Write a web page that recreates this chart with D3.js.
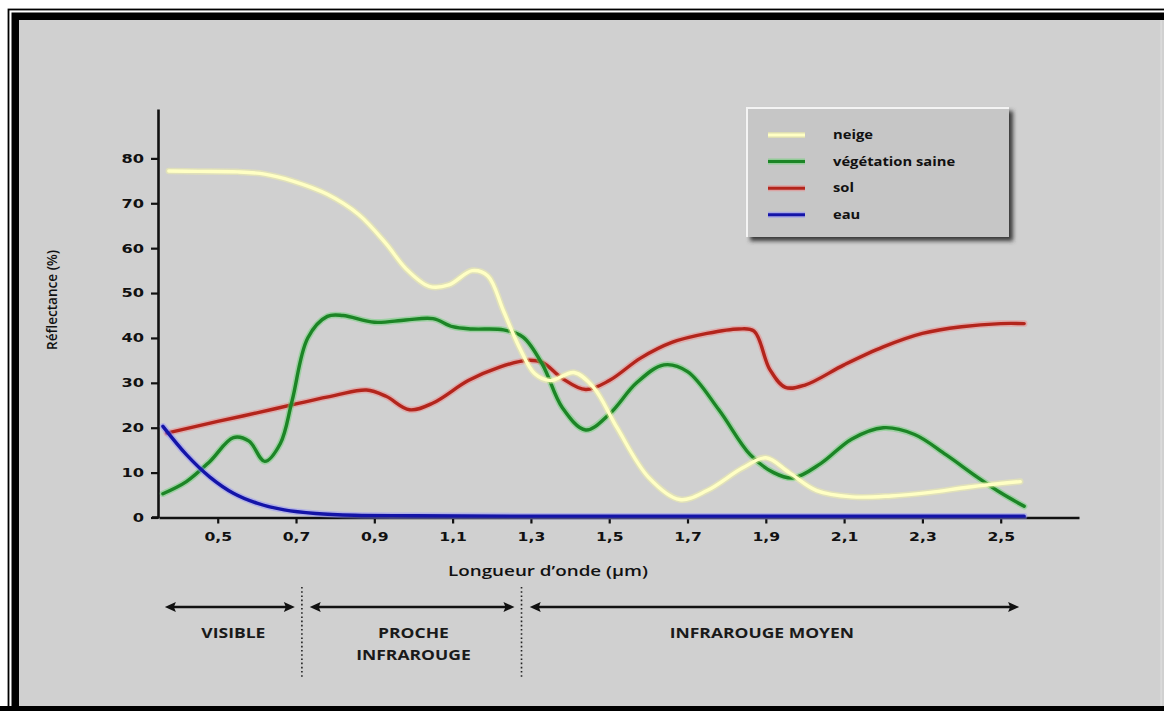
<!DOCTYPE html>
<html><head><meta charset="utf-8">
<script src="https://cdn.jsdelivr.net/npm/d3@7"></script>
<style>body{margin:0;background:#fff} svg{display:block}</style>
</head><body>
<svg id="c" width="1164" height="711"></svg>
<script>
// ---------- DATA ----------
const xTicks = [0.5, 0.7, 0.9, 1.1, 1.3, 1.5, 1.7, 1.9, 2.1, 2.3, 2.5];
const yTicks = [0, 10, 20, 30, 40, 50, 60, 70, 80];
const seriesNames = ["neige", "végétation saine", "sol", "eau"];

const neigeX = [0.375, 0.45, 0.55, 0.62, 0.69, 0.78, 0.86, 0.93, 0.98, 1.04, 1.09, 1.15, 1.19, 1.23, 1.27, 1.31, 1.35, 1.41, 1.46, 1.52, 1.6, 1.68, 1.75, 1.84, 1.9, 1.96, 2.03, 2.12, 2.22, 2.32, 2.42, 2.55];
const neigeY = [77.2, 77.1, 77, 76.5, 75, 72, 67.5, 61, 55.5, 51.5, 51.8, 55, 53.8, 46, 38, 32, 30.5, 32.3, 29, 20, 9, 4, 6, 11, 13.3, 10, 6, 4.6, 4.8, 5.6, 6.8, 8];

const vegX = [0.36, 0.42, 0.48, 0.54, 0.58, 0.62, 0.66, 0.69, 0.73, 0.78, 0.82, 0.9, 0.98, 1.05, 1.1, 1.15, 1.23, 1.28, 1.33, 1.38, 1.44, 1.5, 1.57, 1.64, 1.7, 1.78, 1.86, 1.92, 1.97, 2.04, 2.12, 2.2, 2.28, 2.36, 2.44, 2.5, 2.56];
const vegY = [5.3, 8, 12.5, 17.8, 17, 12.5, 16.5, 26, 40, 44.8, 45, 43.5, 44, 44.3, 42.5, 42, 41.8, 40.2, 34, 24.5, 19.5, 23, 30, 34, 32.5, 24, 14, 10, 8.8, 12, 17.5, 20, 18.5, 14, 9, 5.5, 2.5];

const solX = [0.37, 0.5, 0.6, 0.7, 0.8, 0.88, 0.93, 0.99, 1.05, 1.14, 1.22, 1.29, 1.33, 1.38, 1.44, 1.5, 1.58, 1.66, 1.75, 1.83, 1.87, 1.91, 1.95, 2.0, 2.1, 2.2, 2.3, 2.4, 2.5, 2.56];
const solY = [18.8, 21.4, 23.3, 25.3, 27.2, 28.4, 27, 24, 25.5, 30.5, 33.5, 35, 34.5, 31, 28.5, 30.5, 35.5, 39, 41, 42, 41.5, 33, 29, 29.5, 34, 38, 41, 42.5, 43.2, 43.2];

const eauX = [0.36, 0.42, 0.48, 0.54, 0.6, 0.67, 0.75, 0.85, 1.0, 1.3, 1.7, 2.1, 2.56];
const eauY = [20.3, 14, 9, 5.4, 3.2, 1.7, 0.9, 0.5, 0.4, 0.3, 0.3, 0.3, 0.3];

const bandLabels = [["VISIBLE"], ["PROCHE", "INFRAROUGE"], ["INFRAROUGE MOYEN"]];
const bandStart = [0.365, 0.735, 1.297];
const bandEnd = [0.697, 1.258, 2.547];
const bandLabelX = [0.54, 1.0, 1.89];
const dividers = [0.715, 1.276];

// ---------- STYLE ----------
const coreColors = ["#ffffc4", "#1c8526", "#b3251c", "#1414a8"];
const haloColors = ["#f4f4a0", "#5fd06a", "#f08080", "#8c8cff"];
const drawOrder = [2, 1, 0, 3];

const svg = d3.select("#c");
const defs = svg.append("defs");
const f = defs.append("filter").attr("id", "sh").attr("x", "-10%").attr("y", "-10%").attr("width", "130%").attr("height", "130%");
f.append("feGaussianBlur").attr("stdDeviation", 2);

// frame
svg.append("rect").attr("x", 0).attr("y", 0).attr("width", 1164).attr("height", 711).attr("fill", "#fff");
svg.append("rect").attr("x", 8.5).attr("y", 9.5).attr("width", 1170).attr("height", 720).attr("fill", "none").attr("stroke", "#000").attr("stroke-width", 1.8);
svg.append("rect").attr("x", 11.5).attr("y", 12.5).attr("width", 1170).attr("height", 720).attr("fill", "#000");
svg.append("rect").attr("x", 19).attr("y", 20).attr("width", 1145).attr("height", 686).attr("fill", "#d0d0d0");
svg.append("rect").attr("x", 1160.5).attr("y", 20).attr("width", 1.2).attr("height", 686).attr("fill", "#dedede");
svg.append("rect").attr("x", 0).attr("y", 706).attr("width", 1164).attr("height", 5).attr("fill", "#000");

// scales
const x = d3.scaleLinear().domain([0.35, 2.7]).range([159, 1079]);
const y = d3.scaleLinear().domain([0, 91]).range([517.5, 109]);

function stretch(sel, k) {
  sel.each(function () {
    const w = this.getComputedTextLength();
    d3.select(this).attr("textLength", w * k).attr("lengthAdjust", "spacingAndGlyphs");
  });
}

// axes
const gx = svg.append("g").attr("transform", `translate(0,${y(0)})`)
  .call(d3.axisBottom(x).tickValues(xTicks).tickSize(6).tickSizeOuter(0).tickPadding(9)
    .tickFormat(d => d3.format(".1f")(d).replace(".", ",")));
const gy = svg.append("g").attr("transform", `translate(${x(0.35) - 1},0)`)
  .call(d3.axisLeft(y).tickValues(yTicks).tickSize(7).tickSizeOuter(0).tickPadding(7));
[gx, gy].forEach(g => {
  g.select(".domain").attr("stroke", "#111").attr("stroke-width", 2.6);
  g.selectAll(".tick line").attr("stroke", "#111").attr("stroke-width", 2.2);
  g.selectAll(".tick text").attr("fill", "#111").style("font-family", "DejaVu Sans").style("font-weight", "bold").style("font-size", "12px");
});
svg.append("line").attr("x1", 152).attr("x2", x(0.35)).attr("y1", y(0)).attr("y2", y(0)).attr("stroke", "#111").attr("stroke-width", 2.6);
stretch(gx.selectAll(".tick text"), 1.3);
stretch(gy.selectAll(".tick text"), 1.35);

// axis titles
const xt = svg.append("text").attr("x", 548).attr("y", 576).attr("text-anchor", "middle")
  .style("font-family", "Open Sans").style("font-weight", 600).style("font-size", "14px").attr("fill", "#111")
  .text("Longueur d’onde (µm)");
xt.attr("textLength", 200).attr("lengthAdjust", "spacingAndGlyphs");
const yt = svg.append("text").attr("transform", "translate(57,300) rotate(-90)").attr("text-anchor", "middle")
  .style("font-family", "Open Sans").style("font-weight", 600).style("font-size", "14px").attr("fill", "#111")
  .text("Réflectance (%)");
yt.attr("textLength", 100).attr("lengthAdjust", "spacingAndGlyphs");

// series lines
const series = [[neigeX, neigeY], [vegX, vegY], [solX, solY], [eauX, eauY]];
const line = d3.line().x(d => x(d[0])).y(d => y(d[1])).curve(d3.curveCatmullRom.alpha(0.5));
drawOrder.forEach(i => {
  const pts = series[i][0].map((v, j) => [v, series[i][1][j]]);
  svg.append("path").attr("d", line(pts)).attr("fill", "none").attr("stroke", haloColors[i])
    .attr("stroke-width", 6.5).attr("stroke-opacity", 0.45).attr("stroke-linecap", "round");
  svg.append("path").attr("d", line(pts)).attr("fill", "none").attr("stroke", coreColors[i])
    .attr("stroke-width", 3.4).attr("stroke-linecap", "round");
});

// legend
const lg = svg.append("g").attr("transform", "translate(746,107)");
lg.append("rect").attr("x", 4).attr("y", 4).attr("width", 263).attr("height", 130).attr("fill", "#3a3a3a").attr("filter", "url(#sh)");
lg.append("rect").attr("x", 0).attr("y", 0).attr("width", 263).attr("height", 130).attr("fill", "#c6c6c6");
lg.append("path").attr("d", "M1,130 V1 H263").attr("fill", "none").attr("stroke", "#f4f4f4").attr("stroke-width", 2);
seriesNames.forEach((name, i) => {
  const yy = 28 + i * 26.6;
  lg.append("line").attr("x1", 22).attr("x2", 59).attr("y1", yy).attr("y2", yy)
    .attr("stroke", haloColors[i]).attr("stroke-width", 6).attr("stroke-opacity", 0.5);
  lg.append("line").attr("x1", 22).attr("x2", 59).attr("y1", yy).attr("y2", yy)
    .attr("stroke", coreColors[i]).attr("stroke-width", 3);
  const t = lg.append("text").attr("x", 87).attr("y", yy + 4).attr("fill", "#111")
    .style("font-family", "Open Sans").style("font-weight", "bold").style("font-size", "12.5px").text(name);
  stretch(t, 1.18);
});

// spectral bands
const ay = 607;
bandLabels.forEach((lab, i) => {
  const x1 = x(bandStart[i]), x2 = x(bandEnd[i]);
  svg.append("line").attr("x1", x1 + 6).attr("x2", x2 - 6).attr("y1", ay).attr("y2", ay).attr("stroke", "#111").attr("stroke-width", 2.6);
  svg.append("path").attr("d", `M${x1},${ay} l11,-5 l-2,5 l2,5 Z`).attr("fill", "#111");
  svg.append("path").attr("d", `M${x2},${ay} l-11,-5 l2,5 l-2,5 Z`).attr("fill", "#111");
  lab.forEach((s, k) => {
    const t = svg.append("text").attr("x", x(bandLabelX[i])).attr("y", 638 + k * 22).attr("text-anchor", "middle")
      .attr("fill", "#1a1a1a").style("font-family", "Open Sans").style("font-weight", "bold").style("font-size", "14px").text(s);
    stretch(t, 1.25);
  });
});
dividers.forEach(d => {
  svg.append("line").attr("x1", x(d)).attr("x2", x(d)).attr("y1", 587).attr("y2", 677)
    .attr("stroke", "#222").attr("stroke-width", 1.6).attr("stroke-dasharray", "1.6,2.6");
});
</script>
</body></html>
